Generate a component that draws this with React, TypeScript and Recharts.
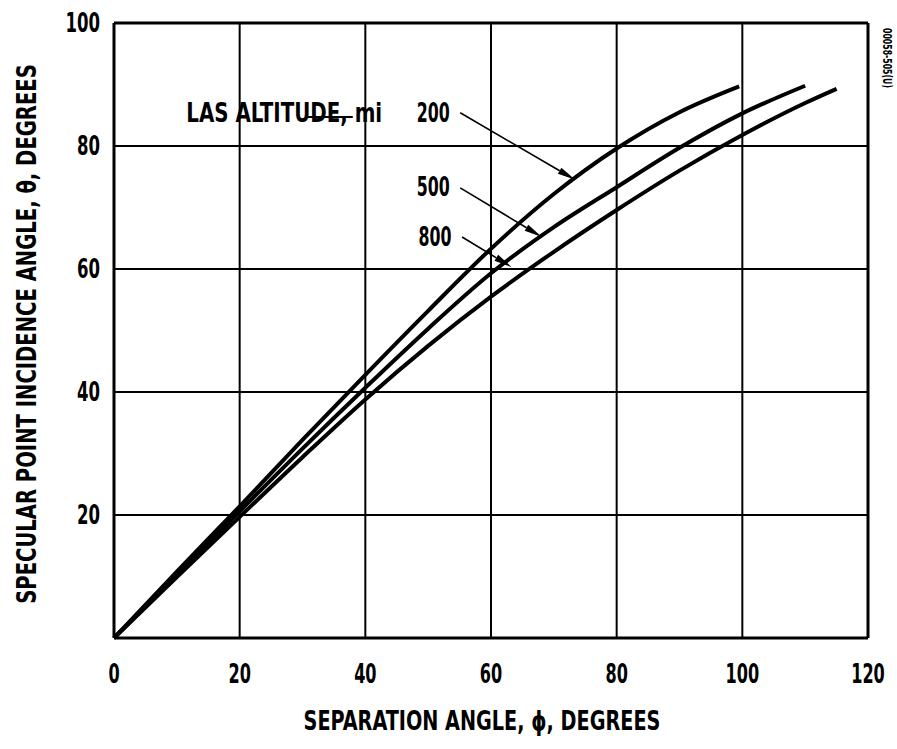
import { LineChart, Line, XAxis, YAxis, CartesianGrid, ReferenceLine, ReferenceDot, Label } from "recharts";

// separation angle phi (deg) vs specular point incidence angle theta (deg)
const alt200 = [
  { phi: 0, theta: 0 },
  { phi: 10, theta: 10.8 },
  { phi: 20, theta: 21.4 },
  { phi: 30, theta: 32.2 },
  { phi: 40, theta: 42.8 },
  { phi: 50, theta: 53.2 },
  { phi: 60, theta: 63.3 },
  { phi: 70, theta: 72.2 },
  { phi: 80, theta: 79.6 },
  { phi: 90, theta: 85.5 },
  { phi: 99.5, theta: 89.7 },
];

const alt500 = [
  { phi: 0, theta: 0 },
  { phi: 10, theta: 10.3 },
  { phi: 20, theta: 20.6 },
  { phi: 30, theta: 30.8 },
  { phi: 40, theta: 40.7 },
  { phi: 50, theta: 50.3 },
  { phi: 60, theta: 59.3 },
  { phi: 70, theta: 66.8 },
  { phi: 80, theta: 73.3 },
  { phi: 90, theta: 79.7 },
  { phi: 100, theta: 85.3 },
  { phi: 110, theta: 89.8 },
];

const alt800 = [
  { phi: 0, theta: 0 },
  { phi: 10, theta: 9.9 },
  { phi: 20, theta: 19.7 },
  { phi: 30, theta: 29.4 },
  { phi: 40, theta: 38.8 },
  { phi: 50, theta: 47.5 },
  { phi: 60, theta: 55.5 },
  { phi: 70, theta: 62.8 },
  { phi: 80, theta: 69.6 },
  { phi: 90, theta: 76 },
  { phi: 100, theta: 81.8 },
  { phi: 110, theta: 87 },
  { phi: 115, theta: 89.3 },
];

const xTicks = [0, 20, 40, 60, 80, 100, 120];
const yTicks = [0, 20, 40, 60, 80, 100];

// callout labels and arrows (data coords)
const callouts = [
  { text: "200", x: 50.8, y: 85.4, from: [55.1, 85.4], to: [73.4, 74.5] },
  { text: "500", x: 50.8, y: 73.3, from: [55.1, 73.2], to: [68.1, 65.2] },
  { text: "800", x: 51.1, y: 65.2, from: [55.4, 65.2], to: [63.3, 60.3] },
];

const FONT = "'Liberation Sans Narrow', 'DejaVu Sans Condensed', 'Liberation Sans', sans-serif";

let ctx: CanvasRenderingContext2D | null = null;
const measure = (s: string, size: number) => {
  if (!ctx) ctx = document.createElement("canvas").getContext("2d");
  if (!ctx) return s.length * size * 0.6;
  ctx.font = `bold ${size}px ${FONT}`;
  return ctx.measureText(s).width;
};

// narrow lettering: squeeze text horizontally to a given width
const Squish = ({ x, y, text, size, width, anchor = "middle", rotate = 0 }: any) => {
  const sx = width / measure(text, size);
  return (
    <g transform={`translate(${x},${y}) rotate(${rotate}) scale(${sx},1)`}>
      <text x={0} y={0} textAnchor={anchor} fontFamily={FONT} fontWeight="bold" fontSize={size} fill="#000">
        {text}
      </text>
    </g>
  );
};

const XTick = (props: any) => {
  const { x, y, payload } = props;
  const s = String(payload.value);
  return <Squish x={x} y={y + 37} text={s} size={26} width={s.length * 11.2} />;
};

const YTick = (props: any) => {
  const { x, y, payload } = props;
  if (payload.value === 0) return null;
  const s = String(payload.value);
  return <Squish x={x - 6} y={y + 9} text={s} size={26} width={s.length * 11.5} anchor="end" />;
};

const Arrow = (props: any) => {
  const { x1, y1, x2, y2 } = props;
  const a = Math.atan2(y2 - y1, x2 - x1);
  const len = 18;
  const w = 3.5;
  const bx = x2 - len * Math.cos(a);
  const by = y2 - len * Math.sin(a);
  const px = -Math.sin(a) * w;
  const py = Math.cos(a) * w;
  return (
    <g>
      <line x1={x1} y1={y1} x2={bx} y2={by} stroke="#000" strokeWidth={1.6} />
      <polygon points={`${x2},${y2} ${bx + px},${by + py} ${bx - px},${by - py}`} fill="#000" />
    </g>
  );
};

const CalloutText = (text: string, len: number, anchor: string = "middle") => (props: any) => (
  <Squish x={props.cx} y={props.cy + 9} text={text} size={26} width={len} anchor={anchor} />
);

export default function App() {
  return (
    <div style={{ position: "absolute", left: 0, top: 0, width: 897, height: 749, background: "#fff" }}>
      <LineChart width={897} height={749} data={alt800} margin={{ top: 23, right: 29, bottom: 0, left: 0 }}>
        <CartesianGrid stroke="#000" strokeWidth={2} horizontalValues={yTicks} verticalValues={xTicks} />
        <XAxis type="number" dataKey="phi" domain={[0, 120]} ticks={xTicks} height={111} tickLine={false}
          axisLine={{ stroke: "#000", strokeWidth: 3 }} tick={<XTick />} interval={0}>
          <Label content={() => (
            <Squish x={482} y={730} text="SEPARATION ANGLE, ϕ, DEGREES" size={26} width={357} />
          )} />
        </XAxis>
        <YAxis type="number" dataKey="theta" domain={[0, 100]} ticks={yTicks} width={114} tickLine={false}
          axisLine={{ stroke: "#000", strokeWidth: 3 }} tick={<YTick />} interval={0}>
          <Label content={() => (
            <Squish x={36} y={334} rotate={-90} text="SPECULAR POINT INCIDENCE ANGLE, θ, DEGREES" size={26} width={540} />
          )} />
        </YAxis>
        <ReferenceLine y={100} stroke="#000" strokeWidth={3} />
        <ReferenceLine x={120} stroke="#000" strokeWidth={3} />
        <Line data={alt200} dataKey="theta" type="monotone" stroke="#000" strokeWidth={4} dot={false} isAnimationActive={false} />
        <Line data={alt500} dataKey="theta" type="monotone" stroke="#000" strokeWidth={4} dot={false} isAnimationActive={false} />
        <Line data={alt800} dataKey="theta" type="monotone" stroke="#000" strokeWidth={4} dot={false} isAnimationActive={false} />
        {callouts.map((c) => (
          <ReferenceLine key={"a" + c.text} segment={[{ x: c.from[0], y: c.from[1] }, { x: c.to[0], y: c.to[1] }]}
            shape={<Arrow />} />
        ))}
        {callouts.map((c) => (
          <ReferenceDot key={"t" + c.text} x={c.x} y={c.y} r={0} shape={CalloutText(c.text, 33)} />
        ))}
        <ReferenceDot x={11.5} y={85.4} r={0} shape={CalloutText("LAS ALTITUDE, mi", 196, "start")} />
        <ReferenceLine segment={[{ x: 30.7, y: 84.7 }, { x: 38, y: 84.7 }]} stroke="#000" strokeWidth={2} />
        <Squish x={883} y={28} rotate={90} text="00058-505(U)" size={12} width={60} anchor="start" />
      </LineChart>
    </div>
  );
}
